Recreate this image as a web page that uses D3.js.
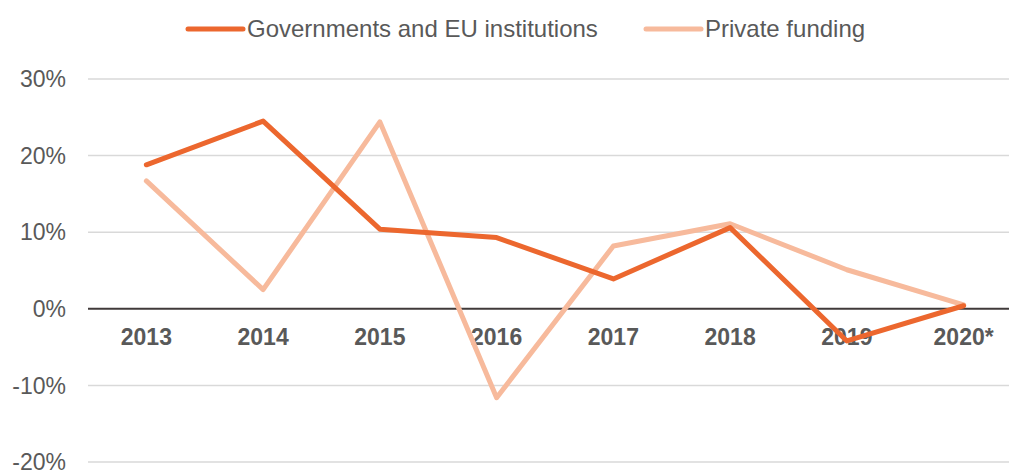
<!DOCTYPE html>
<html>
<head>
<meta charset="utf-8">
<script src="https://cdn.jsdelivr.net/npm/d3@7"></script>
<style>
  body { margin: 0; background: #fff; }
  svg { display: block; font-family: "Liberation Sans", Arial, sans-serif; }
</style>
</head>
<body>
<svg id="chart"></svg>
<script>
// data
const years = ["2013", "2014", "2015", "2016", "2017", "2018", "2019", "2020*"]
const govValues = [18.8, 24.5, 10.4, 9.3, 3.9, 10.6, -4.2, 0.4]
const privateValues = [16.7, 2.5, 24.4, -11.6, 8.2, 11.1, 5.1, 0.5]
const yTicks = [30, 20, 10, 0, -10, -20]

const seriesList = [
  {name: "Governments and EU institutions", values: govValues, color: "#EC672E"},
  {name: "Private funding", values: privateValues, color: "#F7BA9C"}
]

const width = 1009, height = 470
const svg = d3.select("#chart").attr("width", width).attr("height", height)

// plot runs off the right edge a bit, like the original
const x = d3.scaleBand().domain(years).range([88, 1022])
const y = d3.scaleLinear().domain([-20, 30]).range([462, 79])
const cx = d => x(d) + x.bandwidth() / 2

// grid
svg.append("g")
  .selectAll("line")
  .data(yTicks.filter(t => t !== 0))
  .enter().append("line")
  .attr("x1", 88).attr("x2", width)
  .attr("y1", d => y(d)).attr("y2", d => y(d))
  .attr("stroke", "#D9D9D9")
  .attr("stroke-width", 1.5)

// y labels
svg.append("g")
  .selectAll("text")
  .data(yTicks)
  .enter().append("text")
  .attr("x", 66)
  .attr("y", d => y(d))
  .attr("dy", "0.36em")
  .attr("text-anchor", "end")
  .attr("fill", "#595959")
  .style("font-size", "23px")
  .text(d => d + "%")

// zero axis
svg.append("line")
  .attr("x1", 88).attr("x2", width)
  .attr("y1", y(0)).attr("y2", y(0))
  .attr("stroke", "#403A3A")
  .attr("stroke-width", 2)

// x labels
svg.append("g")
  .selectAll("text")
  .data(years)
  .enter().append("text")
  .attr("x", d => cx(d))
  .attr("y", 345)
  .attr("text-anchor", "middle")
  .attr("fill", "#595959")
  .style("font-size", "23px")
  .style("font-weight", "bold")
  .text(d => d)

// lines
const line = d3.line()
  .x((d, i) => cx(years[i]))
  .y(d => y(d))

svg.append("g")
  .selectAll("path")
  .data(seriesList.slice().reverse())
  .enter().append("path")
  .attr("d", d => line(d.values))
  .attr("fill", "none")
  .attr("stroke", d => d.color)
  .attr("stroke-width", 5)
  .attr("stroke-linejoin", "round")
  .attr("stroke-linecap", "round")

// legend
const legendPos = [188, 646]
const legend = svg.append("g")
  .selectAll("g")
  .data(seriesList)
  .enter().append("g")
  .attr("transform", (d, i) => `translate(${legendPos[i]},29)`)

legend.append("line")
  .attr("x1", 0).attr("x2", 55)
  .attr("stroke", d => d.color)
  .attr("stroke-width", 5)
  .attr("stroke-linecap", "round")

legend.append("text")
  .attr("x", 59)
  .attr("y", 8)
  .attr("fill", "#595959")
  .style("font-size", "24px")
  .text(d => d.name)
</script>
</body>
</html>
